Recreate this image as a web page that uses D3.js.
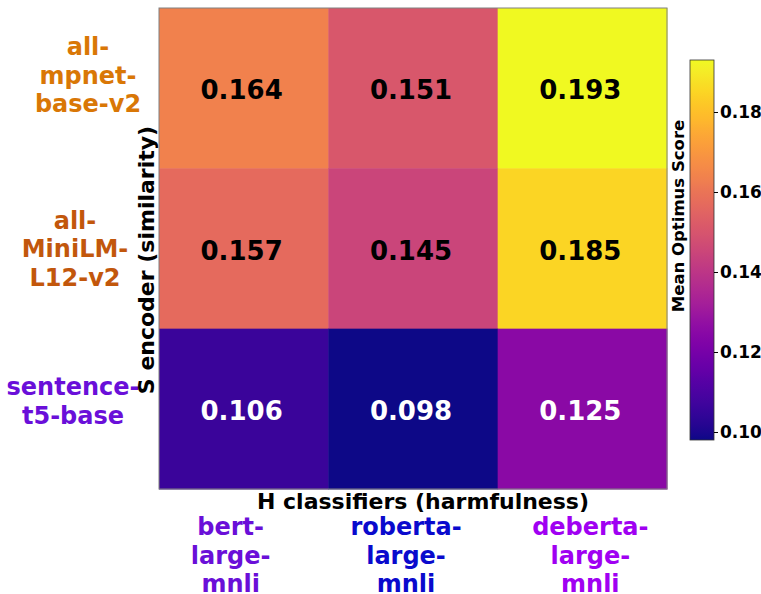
<!DOCTYPE html>
<html><head><meta charset="utf-8">
<script src="https://cdn.jsdelivr.net/npm/d3@7"></script>
<style>body{margin:0;background:#fff}svg{display:block}text{font-family:"DejaVu Sans",sans-serif;font-weight:bold}</style>
</head><body>
<svg id="c" width="761" height="594"></svg>
<script>
const classifiers = ["bert-large-mnli", "roberta-large-mnli", "deberta-large-mnli"];
const encoders = ["all-mpnet-base-v2", "all-MiniLM-L12-v2", "sentence-t5-base"];
const scores = [
  [0.164, 0.151, 0.193],
  [0.157, 0.145, 0.185],
  [0.106, 0.098, 0.125]
];
const classifierLines = [["bert-","large-","mnli"],["roberta-","large-","mnli"],["deberta-","large-","mnli"]];
const encoderLines = [["all-","mpnet-","base-v2"],["all-","MiniLM-","L12-v2"],["sentence-","t5-base"]];
const classifierColors = ["#6a0fd8", "#0a0acd", "#a000f2"];
const encoderColors = ["#d97706", "#c2570c", "#6a0fd9"];
const cbTicks = [0.10, 0.12, 0.14, 0.16, 0.18];
const cbDomain = [0.098, 0.193];

const svg = d3.select("#c");
const L = {x0:159, x1:667, y0:8, y1:489, cbx:690, cbw:24, cby0:60, cby1:440};
const x = d3.scaleBand().domain(classifiers).range([L.x0, L.x1]);
const y = d3.scaleBand().domain(encoders).range([L.y0, L.y1]);
const color = d3.scaleSequential(d3.interpolatePlasma).domain(cbDomain);

const cells = [];
encoders.forEach((e,i)=>classifiers.forEach((c,j)=>cells.push({e,c,v:scores[i][j]})));
svg.append("g").selectAll("rect").data(cells).join("rect")
  .attr("x",d=>x(d.c)).attr("y",d=>y(d.e))
  .attr("width",x.bandwidth()+0.5).attr("height",y.bandwidth()+0.5)
  .attr("fill",d=>color(d.v));
svg.append("rect").attr("x",L.x0).attr("y",L.y0).attr("width",L.x1-L.x0).attr("height",L.y1-L.y0)
  .attr("fill","none").attr("stroke","#808080").attr("stroke-width",1);
svg.append("g").selectAll("text").data(cells).join("text")
  .attr("x",d=>x(d.c)+x.bandwidth()/2-2).attr("y",d=>y(d.e)+y.bandwidth()/2+2)
  .attr("text-anchor","middle").attr("dominant-baseline","central")
  .attr("font-size",26).attr("fill",d=>d.v<0.13?"#fff":"#000")
  .text(d=>d3.format(".3f")(d.v));

// x tick labels
const xdx = [-13,-7,8];
classifiers.forEach((c,j)=>{
  const t = svg.append("text").attr("text-anchor","middle").attr("font-size",24).attr("fill",classifierColors[j]);
  classifierLines[j].forEach((ln,k)=>t.append("tspan").attr("x",x(c)+x.bandwidth()/2+xdx[j]).attr("y",L.y1+46+k*28.5).text(ln));
});
// y tick labels
const ycx = [88,75,73], ydy = [-13,0,-8];
encoders.forEach((e,i)=>{
  const lines = encoderLines[i];
  const cy = y(e)+y.bandwidth()/2;
  const first = cy + 8.5 - (lines.length-1)*28.5/2 + ydy[i];
  const t = svg.append("text").attr("text-anchor","middle").attr("font-size",24).attr("fill",encoderColors[i]);
  lines.forEach((ln,k)=>t.append("tspan").attr("x",ycx[i]).attr("y",first+k*28.5).text(ln));
});
// axis titles
svg.append("text").attr("x",423).attr("y",509).attr("text-anchor","middle").attr("font-size",22).attr("fill","#000")
  .text("H classifiers (harmfulness)");
svg.append("text").attr("transform","translate(146,260) rotate(-90)").attr("text-anchor","middle")
  .attr("dominant-baseline","central").attr("font-size",22).attr("fill","#000").text("S encoder (similarity)");

// colorbar
const cy = d3.scaleLinear().domain(cbDomain).range([L.cby1, L.cby0]);
const grad = svg.append("defs").append("linearGradient").attr("id","g").attr("x1",0).attr("y1",1).attr("x2",0).attr("y2",0);
d3.range(0,1.0001,0.02).forEach(t=>grad.append("stop").attr("offset",t).attr("stop-color",d3.interpolatePlasma(t)));
svg.append("rect").attr("x",L.cbx).attr("y",L.cby0).attr("width",L.cbw).attr("height",L.cby1-L.cby0)
  .attr("fill","url(#g)").attr("stroke","#333").attr("stroke-width",0.8);
const ax = svg.append("g").attr("transform",`translate(${L.cbx+L.cbw},0)`)
  .call(d3.axisRight(cy).tickValues(cbTicks).tickFormat(d3.format(".2f")).tickSize(4).tickPadding(2));
ax.select(".domain").remove();
ax.selectAll("text").attr("font-size",17).attr("font-family","DejaVu Sans").attr("font-weight","bold").attr("fill","#000");
ax.selectAll("line").attr("stroke","#000");
svg.append("text").attr("transform","translate(678,216) rotate(-90)").attr("text-anchor","middle")
  .attr("dominant-baseline","central").attr("font-size",16.5).attr("fill","#000").text("Mean Optimus Score");
</script>
</body></html>
